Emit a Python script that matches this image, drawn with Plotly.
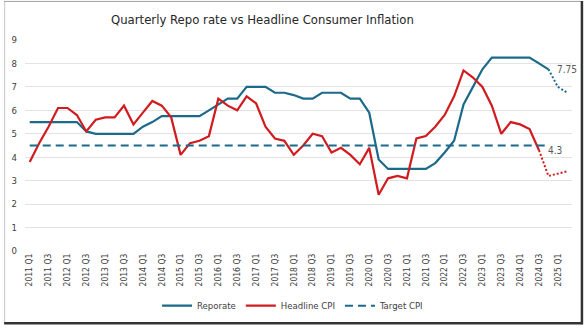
import plotly.graph_objects as go

quarters = [
    "2011 Q1", "2011 Q2", "2011 Q3", "2011 Q4", "2012 Q1", "2012 Q2", "2012 Q3", "2012 Q4",
    "2013 Q1", "2013 Q2", "2013 Q3", "2013 Q4", "2014 Q1", "2014 Q2", "2014 Q3", "2014 Q4",
    "2015 Q1", "2015 Q2", "2015 Q3", "2015 Q4", "2016 Q1", "2016 Q2", "2016 Q3", "2016 Q4",
    "2017 Q1", "2017 Q2", "2017 Q3", "2017 Q4", "2018 Q1", "2018 Q2", "2018 Q3", "2018 Q4",
    "2019 Q1", "2019 Q2", "2019 Q3", "2019 Q4", "2020 Q1", "2020 Q2", "2020 Q3", "2020 Q4",
    "2021 Q1", "2021 Q2", "2021 Q3", "2021 Q4", "2022 Q1", "2022 Q2", "2022 Q3", "2022 Q4",
    "2023 Q1", "2023 Q2", "2023 Q3", "2023 Q4", "2024 Q1", "2024 Q2", "2024 Q3", "2024 Q4",
    "2025 Q1", "2025 Q2",
]

repo_rate = [
    5.5, 5.5, 5.5, 5.5, 5.5, 5.5, 5.1, 5.0,
    5.0, 5.0, 5.0, 5.0, 5.3, 5.5, 5.75, 5.75,
    5.75, 5.75, 5.75, 6.0, 6.25, 6.5, 6.5, 7.0,
    7.0, 7.0, 6.75, 6.75, 6.65, 6.5, 6.5, 6.75,
    6.75, 6.75, 6.5, 6.5, 5.9, 3.9, 3.5, 3.5,
    3.5, 3.5, 3.5, 3.75, 4.2, 4.7, 6.25, 7.0,
    7.75, 8.25, 8.25, 8.25, 8.25, 8.25, 8.0, 7.75,
    7.0, 6.75,
]

headline_cpi = [
    3.8, 4.6, 5.3, 6.1, 6.1, 5.8, 5.1, 5.6,
    5.7, 5.7, 6.2, 5.4, 5.9, 6.4, 6.2, 5.7,
    4.1, 4.6, 4.7, 4.9, 6.5, 6.2, 6.0, 6.6,
    6.3, 5.3, 4.8, 4.7, 4.1, 4.5, 5.0, 4.9,
    4.2, 4.4, 4.1, 3.7, 4.4, 2.4, 3.1, 3.2,
    3.1, 4.8, 4.9, 5.3, 5.8, 6.6, 7.7, 7.4,
    7.0, 6.2, 5.0, 5.5, 5.4, 5.2, 4.3, 3.2,
    3.3, 3.4,
]

target_cpi = [
    4.5, 4.5, 4.5, 4.5, 4.5, 4.5, 4.5, 4.5,
    4.5, 4.5, 4.5, 4.5, 4.5, 4.5, 4.5, 4.5,
    4.5, 4.5, 4.5, 4.5, 4.5, 4.5, 4.5, 4.5,
    4.5, 4.5, 4.5, 4.5, 4.5, 4.5, 4.5, 4.5,
    4.5, 4.5, 4.5, 4.5, 4.5, 4.5, 4.5, 4.5,
    4.5, 4.5, 4.5, 4.5, 4.5, 4.5, 4.5, 4.5,
    4.5, 4.5, 4.5, 4.5, 4.5, 4.5, 4.5, 4.5,
]

repo_actual_n = 56   # last actual point: 2024 Q4, rest projected (dotted)
cpi_actual_n = 55    # last actual point: 2024 Q3

tick_labels = quarters[::2]
y_ticks = [0, 1, 2, 3, 4, 5, 6, 7, 8, 9]

BLUE = "#1c6a8a"
RED = "#d01c1f"
FONT = "Liberation Sans Narrow, Arial Narrow, DejaVu Sans Condensed, sans-serif"

W, H = 586, 332
ML, MR, MT, MB = 21, 14, 40, 76


def px_x(p):
    return (p - ML) / (W - ML - MR)


def px_y(p):
    return (H - MB - p) / (H - MT - MB)


fig = go.Figure()
fig.add_trace(go.Scatter(
    x=quarters[:repo_actual_n], y=repo_rate[:repo_actual_n], mode="lines",
    name="Reporate", line=dict(color=BLUE, width=2.2)))
fig.add_trace(go.Scatter(
    x=quarters[repo_actual_n - 1:], y=repo_rate[repo_actual_n - 1:], mode="lines",
    showlegend=False, line=dict(color=BLUE, width=2, dash="2px,2px")))
fig.add_trace(go.Scatter(
    x=quarters[:cpi_actual_n], y=headline_cpi[:cpi_actual_n], mode="lines",
    name="Headline CPI", line=dict(color=RED, width=2.2)))
fig.add_trace(go.Scatter(
    x=quarters[cpi_actual_n - 1:], y=headline_cpi[cpi_actual_n - 1:], mode="lines",
    showlegend=False, line=dict(color=RED, width=2, dash="2px,2px")))
fig.add_trace(go.Scatter(
    x=quarters[:len(target_cpi)], y=target_cpi, mode="lines",
    name="Target CPI", line=dict(color=BLUE, width=2, dash="8px,5px")))

annotations = [
    dict(x=quarters[repo_actual_n - 1], y=repo_rate[repo_actual_n - 1], xref="x", yref="y",
         text=f"{repo_rate[repo_actual_n - 1]:g}", showarrow=False, xanchor="left",
         yanchor="middle", xshift=7, font=dict(size=10, color="#595959", family=FONT)),
    dict(x=quarters[cpi_actual_n - 1], y=headline_cpi[cpi_actual_n - 1], xref="x", yref="y",
         text=f"{headline_cpi[cpi_actual_n - 1]:g}", showarrow=False, xanchor="left",
         yanchor="middle", xshift=7, font=dict(size=10, color="#595959", family=FONT)),
    dict(x=px_x(260), y=px_y(19), xref="paper", yref="paper",
         text="Quarterly Repo rate vs Headline Consumer Inflation", showarrow=False,
         xanchor="center", yanchor="middle", font=dict(size=13, color="#262626", family=FONT)),
]

shapes = [
    dict(type="line", xref="paper", yref="paper", x0=px_x(0.5), x1=px_x(0.5), y0=px_y(0), y1=px_y(331),
         line=dict(color="#c8c8c8", width=1)),
    dict(type="line", xref="paper", yref="paper", x0=px_x(0), x1=px_x(583), y0=px_y(0.5), y1=px_y(0.5),
         line=dict(color="#a0a0a0", width=1)),
    dict(type="line", xref="paper", yref="paper", x0=px_x(582), x1=px_x(582), y0=px_y(0), y1=px_y(331),
         line=dict(color="#333333", width=2.5)),
    dict(type="line", xref="paper", yref="paper", x0=px_x(0), x1=px_x(583), y0=px_y(330), y1=px_y(330),
         line=dict(color="#333333", width=2.5)),
]

fig.update_layout(
    width=W, height=H,
    margin=dict(l=ML, r=MR, t=MT, b=MB, pad=0),
    paper_bgcolor="white", plot_bgcolor="white",
    font=dict(family=FONT, color="#404040"),
    showlegend=True,
    legend=dict(orientation="h", x=0.49, xanchor="center", y=px_y(312), yanchor="middle",
                font=dict(size=9.5, color="#404040", family=FONT), itemwidth=30,
                traceorder="normal", bgcolor="rgba(0,0,0,0)"),
    annotations=annotations,
    shapes=shapes,
)
fig.update_xaxes(
    type="category", categoryorder="array", categoryarray=quarters,
    range=[-0.5, len(quarters) - 0.5],
    tickmode="array", tickvals=tick_labels, ticktext=tick_labels,
    tickangle=-90, tickfont=dict(size=8.5, color="#404040", family=FONT),
    showgrid=False, showline=False, zeroline=False, ticks="",
)
fig.update_yaxes(
    range=[0, 9], tickmode="array", tickvals=y_ticks,
    tickfont=dict(size=9.5, color="#404040", family=FONT),
    showgrid=True, gridcolor="#e3e3e3", gridwidth=1.2, zeroline=False, showline=False,
    ticks="", ticklabelstandoff=7,
)

fig.write_html("out.html")
